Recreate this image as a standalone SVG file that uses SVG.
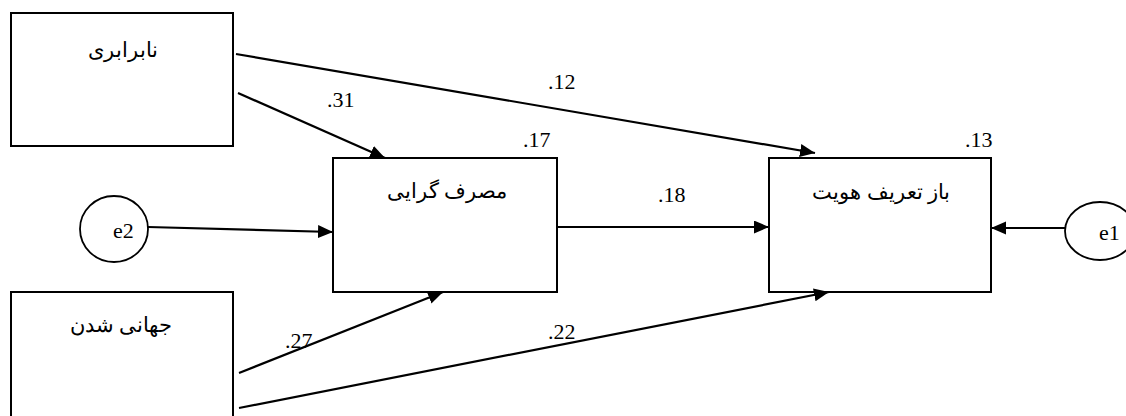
<svg xmlns="http://www.w3.org/2000/svg" width="1126" height="416" viewBox="0 0 1126 416">
<style>
.box{fill:#fff;stroke:#000;stroke-width:2}
.ell{fill:#fff;stroke:#000;stroke-width:1.8}
.con line{stroke:#000;stroke-width:2.2;marker-end:url(#ah)}
text{font-family:"Times New Roman","Liberation Serif",serif;fill:#000}
.fa{font-size:21px;text-anchor:middle}
.num{font-size:22px}
</style>
<defs>
<marker id="ah" markerUnits="userSpaceOnUse" markerWidth="16" markerHeight="14" refX="15" refY="6.5" orient="auto">
<path d="M0,0 L15,6.5 L0,13 z" fill="#000"/>
</marker>
</defs>
<rect width="1126" height="416" fill="#fff"/>
<g id="n-nabarabari"><rect class="box" x="11" y="13" width="222" height="133"/><text class="fa" x="123" y="57" direction="rtl">نابرابری</text></g>
<g id="n-masraf"><rect class="box" x="333" y="158" width="224" height="134"/><text class="fa" x="447" y="198" direction="rtl">مصرف گرایی</text></g>
<g id="n-baz"><rect class="box" x="769" y="158" width="222" height="134"/><text class="fa" x="881" y="199" direction="rtl">باز تعریف هویت</text></g>
<g id="n-jahani"><rect class="box" x="11" y="292" width="222" height="140"/><text class="fa" x="121" y="332" direction="rtl">جهانی شدن</text></g>
<g id="n-e2"><ellipse class="ell" cx="114" cy="229" rx="34" ry="33"/><text class="num" x="113" y="238">e2</text></g>
<g id="n-e1"><ellipse class="ell" cx="1100" cy="231" rx="35" ry="29"/><text class="num" x="1099" y="240">e1</text></g>
<g id="connectors" class="con">
<line x1="236" y1="54" x2="815" y2="153"/>
<line x1="238" y1="93" x2="385" y2="158"/>
<line x1="148" y1="227" x2="333" y2="232"/>
<line x1="557" y1="227" x2="769" y2="227"/>
<line x1="1065" y1="228" x2="991" y2="228"/>
<line x1="239" y1="373" x2="443" y2="292"/>
<line x1="239" y1="408" x2="829" y2="292"/>
</g>
<g id="labels">
<text class="num" x="548" y="89">.12</text>
<text class="num" x="327" y="107">.31</text>
<text class="num" x="523" y="147">.17</text>
<text class="num" x="965" y="147">.13</text>
<text class="num" x="658" y="202">.18</text>
<text class="num" x="285" y="348">.27</text>
<text class="num" x="548" y="339">.22</text>
</g>
</svg>
